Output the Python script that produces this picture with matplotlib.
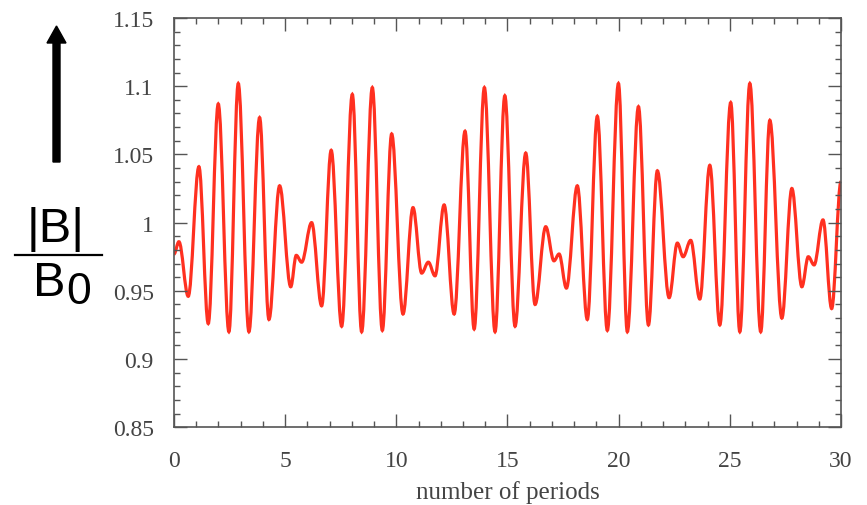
import matplotlib
matplotlib.use("Agg")
import matplotlib.pyplot as plt
from matplotlib.path import Path
from matplotlib.patches import PathPatch, FancyArrow
from matplotlib.ticker import MultipleLocator

# Extrema of |B|/B0 (x in number of periods)
x_ext = [0.00, 0.22, 0.64, 1.12, 1.54, 1.99, 2.47, 2.89, 3.37, 3.85, 4.27, 4.75,
         5.25, 5.50, 5.74, 6.19, 6.64, 7.07, 7.54, 8.02, 8.44, 8.92, 9.37, 9.79,
         10.30, 10.75, 11.14, 11.44, 11.74, 12.15, 12.60, 13.09, 13.50, 13.96,
         14.44, 14.88, 15.34, 15.82, 16.24, 16.72, 17.09, 17.32, 17.65, 18.14,
         18.59, 19.04, 19.49, 19.99, 20.39, 20.89, 21.34, 21.74, 22.27, 22.64,
         22.90, 23.24, 23.65, 24.10, 24.55, 25.04, 25.45, 25.90, 26.39, 26.80,
         27.34, 27.79, 28.24, 28.53, 28.79, 29.19, 29.58, 30.00]
y_ext = [0.977, 0.986, 0.946, 1.041, 0.926, 1.087, 0.920, 1.102, 0.920, 1.077,
         0.929, 1.027, 0.953, 0.976, 0.971, 1.000, 0.939, 1.053, 0.924, 1.094,
         0.920, 1.099, 0.921, 1.065, 0.933, 1.011, 0.963, 0.971, 0.961, 1.013,
         0.933, 1.067, 0.922, 1.099, 0.920, 1.093, 0.924, 1.051, 0.940, 0.997,
         0.972, 0.977, 0.952, 1.027, 0.929, 1.078, 0.921, 1.102, 0.920, 1.085,
         0.925, 1.038, 0.945, 0.985, 0.975, 0.987, 0.944, 1.042, 0.925, 1.088,
         0.920, 1.102, 0.920, 1.075, 0.930, 1.025, 0.953, 0.975, 0.969, 1.002,
         0.937, 1.030]

x_ticks = [0, 5, 10, 15, 20, 25, 30]
y_ticks = [0.85, 0.9, 0.95, 1.0, 1.05, 1.1, 1.15]
y_tick_labels = ["0.85", "0.9", "0.95", "1", "1.05", "1.1", "1.15"]
x_label = "number of periods"

fig = plt.figure(figsize=(8.67, 5.06), dpi=100)
ax = fig.add_axes([0.2007, 0.1536, 0.7693, 0.8089])

# smooth curve through extrema (horizontal tangents at each extremum)
verts = [(x_ext[0], y_ext[0])]
codes = [Path.MOVETO]
h = 0.36
for i in range(len(x_ext) - 1):
    x0, y0, x1, y1 = x_ext[i], y_ext[i], x_ext[i + 1], y_ext[i + 1]
    d = (x1 - x0) * h
    verts += [(x0 + d, y0), (x1 - d, y1), (x1, y1)]
    codes += [Path.CURVE4, Path.CURVE4, Path.CURVE4]
ax.add_patch(PathPatch(Path(verts, codes), facecolor="none",
                       edgecolor="#ff3020", lw=2.3, clip_on=True))

ax.set_xlim(0, 30)
ax.set_ylim(0.85, 1.15)
ax.set_xticks(x_ticks)
ax.set_xticklabels([str(t) for t in x_ticks])
ax.set_yticks(y_ticks)
ax.set_yticklabels(y_tick_labels)
ax.xaxis.set_minor_locator(MultipleLocator(1))
ax.yaxis.set_minor_locator(MultipleLocator(0.01))

serif = ["Liberation Serif", "DejaVu Serif"]
for lab in ax.get_xticklabels() + ax.get_yticklabels():
    lab.set_fontfamily(serif)
    lab.set_fontsize(17)
    lab.set_color("#444444")
ax.tick_params(which="both", direction="in", top=True, right=True,
               color="#555555", width=1.0)
ax.tick_params(which="major", length=9.5)
ax.tick_params(which="minor", length=4.5)
ax.tick_params(axis="x", which="major", pad=16.5)
ax.tick_params(axis="y", which="major", pad=14.5)
for s in ax.spines.values():
    s.set_color("#555555")
    s.set_linewidth(1.2)

ax.set_xlabel(x_label, fontfamily=serif, fontsize=18, color="#444444", labelpad=6)

# big |B|/B0 label with arrow
sans = ["Liberation Sans", "DejaVu Sans"]
fig.text(56 / 867, 1 - 229 / 506, "|B|", fontfamily=sans, fontsize=35,
         ha="center", va="center", color="black")
fig.add_artist(plt.Line2D([15 / 867, 102 / 867], [1 - 256 / 506, 1 - 256 / 506],
                          color="black", lw=1.6, transform=fig.transFigure))
fig.text(33 / 867, 1 - 284 / 506, "B", fontfamily=sans, fontsize=35,
         ha="left", va="center", color="black")
fig.text(66 / 867, 1 - 292 / 506, "0", fontfamily=sans, fontsize=32,
         ha="left", va="center", color="black")
fig.add_artist(FancyArrow(56.5 / 867, 1 - 163 / 506, 0, (163 - 27) / 506,
                          width=7 / 867, head_width=19 / 867,
                          head_length=17 / 506, length_includes_head=True,
                          color="black", transform=fig.transFigure))

fig.savefig("out.png", dpi=100)
